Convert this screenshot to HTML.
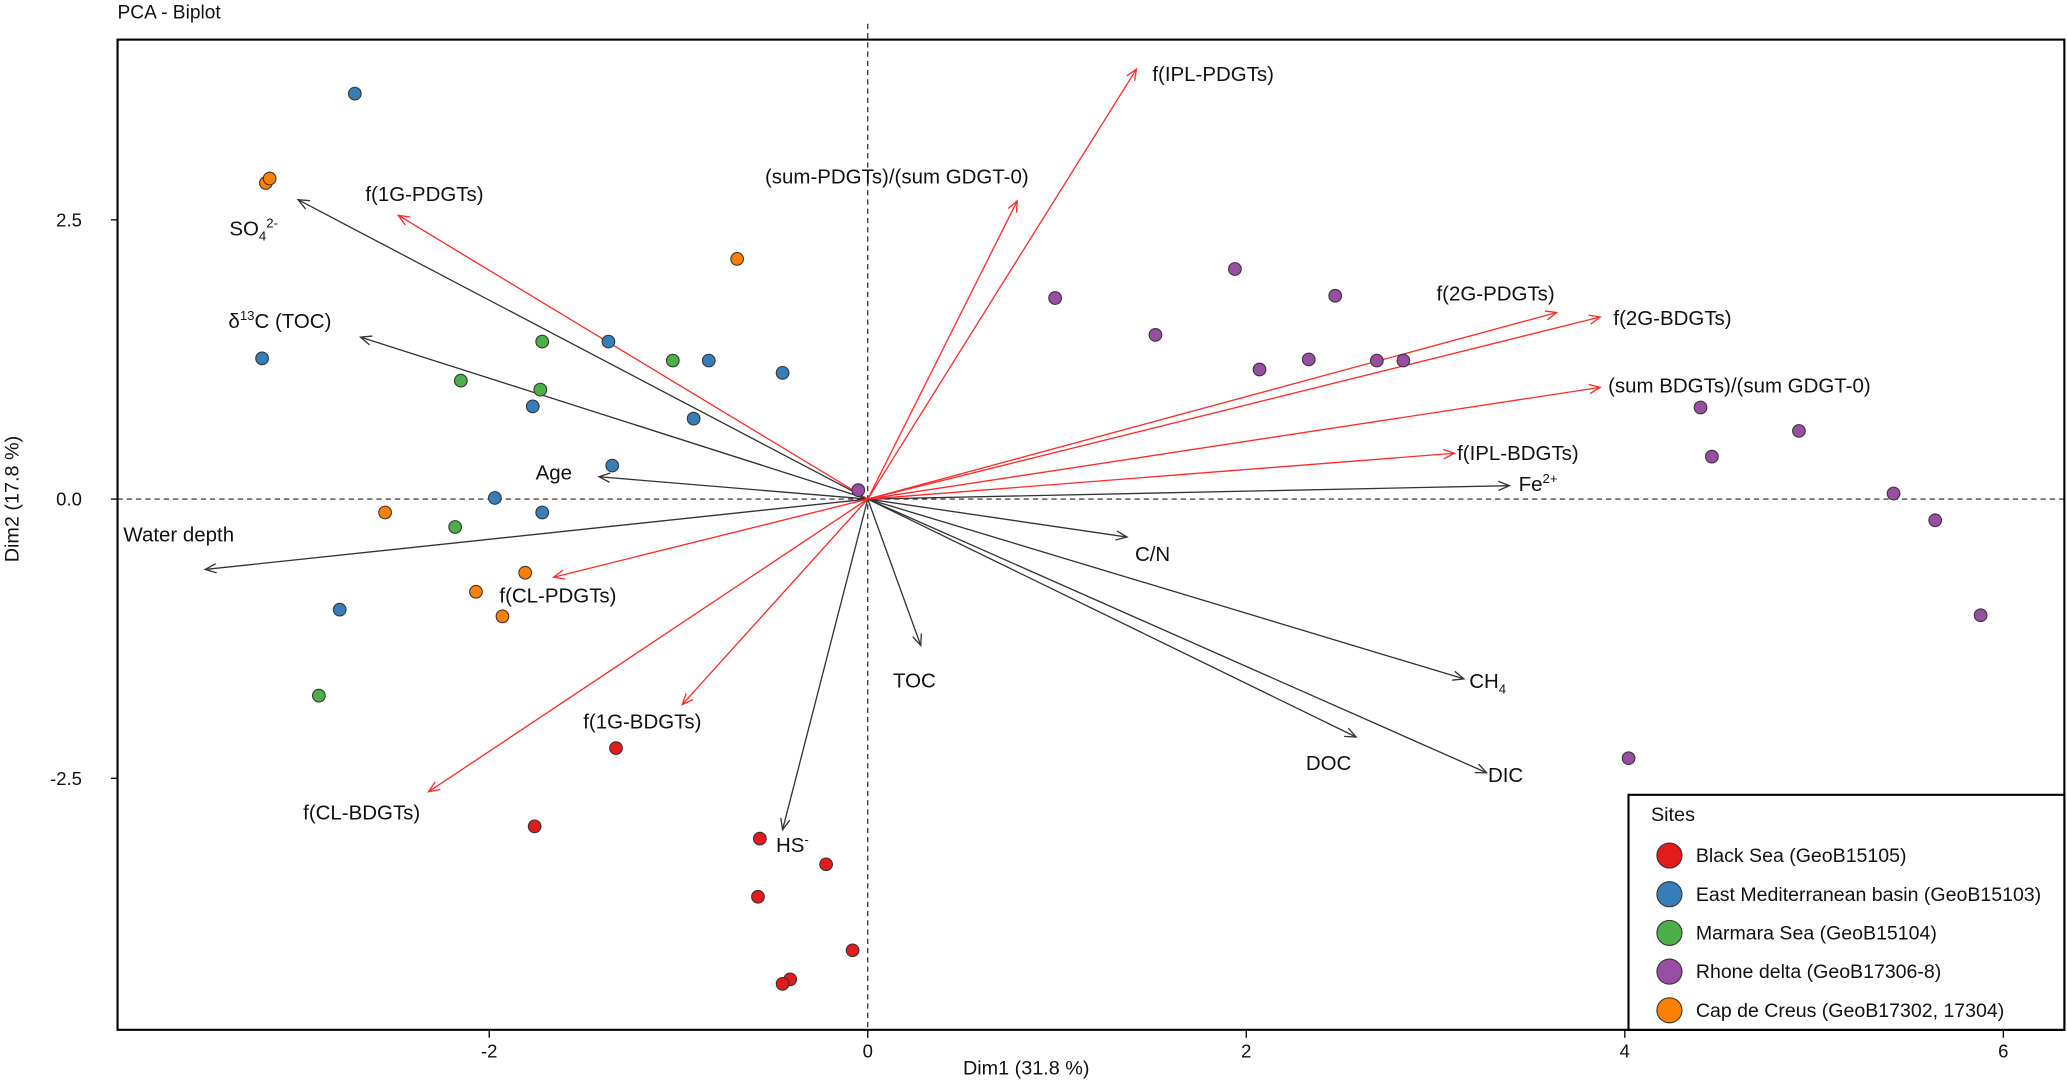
<!DOCTYPE html>
<html><head><meta charset="utf-8">
<style>html,body{margin:0;padding:0;background:#fff}svg{display:block}text{font-family:"Liberation Sans",Arial,sans-serif;fill:#111}</style>
</head><body>
<svg id="chart" width="2067" height="1080" viewBox="0 0 1565 818" preserveAspectRatio="none" xmlns="http://www.w3.org/2000/svg">
<text x="89" y="14" font-size="14.5">PCA - Biplot</text>
<g id="plot"></g>
<rect x="89" y="30" width="1474" height="750" fill="none" stroke="#000" stroke-width="1.6"/>
<text x="777" y="814" font-size="15" text-anchor="middle">Dim1 (31.8 %)</text>
<text transform="translate(14,378) rotate(-90)" font-size="15" text-anchor="middle">Dim2 (17.8 %)</text>
<g>
<rect x="1233" y="602" width="330" height="178" fill="#fff" stroke="#000" stroke-width="1.6"/>
<text x="1250" y="622" font-size="15">Sites</text>
<g id="legend-items"></g>
</g>
</svg>
<script>
const xTicks = [-2, 0, 2, 4, 6];
const yTicks = [-2.5, 0, 2.5];
const siteNames = ["Black Sea (GeoB15105)","East Mediterranean basin (GeoB15103)","Marmara Sea (GeoB15104)","Rhone delta (GeoB17306-8)","Cap de Creus (GeoB17302, 17304)"];
const siteColors = ["#e41a1c","#377eb8","#4daf4a","#984ea3","#ff7f00"];
const pointX = [-1.33,-1.76,-0.57,-0.22,-0.58,-0.08,-0.41,-0.45,
 -2.71,-3.20,-1.37,-0.84,-0.45,-1.77,-0.92,-1.35,-1.97,-1.72,-2.79,
 -1.72,-1.03,-2.15,-1.73,-2.18,-2.90,
 -0.05,0.99,1.94,1.52,2.47,2.07,2.33,2.69,2.83,4.40,4.46,4.92,5.42,5.64,5.88,4.02,
 -3.18,-3.16,-0.69,-2.55,-1.81,-2.07,-1.93];
const pointY = [-2.23,-2.93,-3.04,-3.27,-3.56,-4.04,-4.30,-4.34,
 3.63,1.26,1.41,1.24,1.13,0.83,0.72,0.30,0.01,-0.12,-0.99,
 1.41,1.24,1.06,0.98,-0.25,-1.76,
 0.08,1.80,2.06,1.47,1.82,1.16,1.25,1.24,1.24,0.82,0.38,0.61,0.05,-0.19,-1.04,-2.32,
 2.83,2.87,2.15,-0.12,-0.66,-0.83,-1.05];
const pointSite = [0,0,0,0,0,0,0,0, 1,1,1,1,1,1,1,1,1,1,1, 2,2,2,2,2,2, 3,3,3,3,3,3,3,3,3,3,3,3,3,3,3,3, 4,4,4,4,4,4,4];
const varNames = ["SO4","d13C","Age","Water depth","C/N","TOC","CH4","DOC","DIC","HS","Fe",
 "f(IPL-PDGTs)","(sum-PDGTs)/(sum GDGT-0)","f(1G-PDGTs)","f(2G-PDGTs)","f(2G-BDGTs)","(sum BDGTs)/(sum GDGT-0)","f(IPL-BDGTs)","f(CL-PDGTs)","f(1G-BDGTs)","f(CL-BDGTs)"];
const varX = [-3.01,-2.68,-1.42,-3.50,1.37,0.28,3.15,2.58,3.27,-0.45,3.39, 1.42,0.79,-2.48,3.64,3.87,3.87,3.10,-1.66,-0.98,-2.32];
const varY = [2.68,1.45,0.20,-0.63,-0.34,-1.31,-1.61,-2.13,-2.45,-2.96,0.12, 3.85,2.67,2.54,1.67,1.63,1.00,0.41,-0.70,-1.84,-2.62];
const varGroup = [0,0,0,0,0,0,0,0,0,0,0, 1,1,1,1,1,1,1,1,1,1];
const labelDX = [-52,-100,-48,-62,6,-21,4,-38,1,-5,7, 12,-191,-25,-91,10,6,2,-41,-75,-95];
const labelDY = [22,-12,-3,-26,13,27,2,20,2,12,-1, 4,-18,-16,-14,1,-1,0,14,13,16];

const NS="http://www.w3.org/2000/svg";
const X0=657, XS=143.3, Y0=378, YS=84.6;
const sx=v=>X0+v*XS, sy=v=>Y0-v*YS;
const plot=document.getElementById('plot');
function mk(tag,attrs,parent){const e=document.createElementNS(NS,tag);for(const k in attrs)e.setAttribute(k,attrs[k]);(parent||plot).appendChild(e);return e;}

let l=mk('line',{x1:89,x2:1563,y1:sy(0),y2:sy(0),stroke:'#222','stroke-dasharray':'4,3','stroke-width':0.9});


l=mk('line',{x1:sx(0),x2:sx(0),y1:18,y2:780,stroke:'#222','stroke-dasharray':'4,3','stroke-width':0.9});



xTicks.forEach(t=>{
 const tk=mk('line',{x1:sx(t),x2:sx(t),y1:780,y2:786,stroke:'#000'});
 
 
 const tx=mk('text',{x:sx(t),y:801,'font-size':14,'text-anchor':'middle'});
 tx.textContent=t;
 
 
});
yTicks.forEach(t=>{
 const tk=mk('line',{x1:84,x2:89,y1:sy(t),y2:sy(t),stroke:'#000'});
 
 
 const tx=mk('text',{x:62,y:sy(t)+5,'font-size':14,'text-anchor':'end'});
 tx.textContent=t.toFixed(1);
 
 
});

varNames.forEach((n,i)=>{
 const col=varGroup[i]?'#ff2a2a':'#333';
 const x2=sx(varX[i]), y2=sy(varY[i]);
 const g=mk('g',{});
 
 
 mk('line',{x1:X0,y1:Y0,x2:x2,y2:y2,stroke:col,'stroke-width':1},g);
 const a=Math.atan2(y2-Y0,x2-X0), L=9, w=0.4;
 mk('polyline',{points:`${x2-L*Math.cos(a-w)},${y2-L*Math.sin(a-w)} ${x2},${y2} ${x2-L*Math.cos(a+w)},${y2-L*Math.sin(a+w)}`,fill:'none',stroke:col,'stroke-width':1},g);
 const t=mk('text',{x:x2+labelDX[i],y:y2+labelDY[i]+5,'font-size':15.5},g);
 
 
 if(n==='SO4'){t.innerHTML='SO<tspan font-size="10" dy="4">4</tspan><tspan font-size="10" dy="-10">2-</tspan>';}
 else if(n==='d13C'){t.innerHTML='δ<tspan font-size="10" dy="-6">13</tspan><tspan dy="6">C (TOC)</tspan>';}
 else if(n==='CH4'){t.innerHTML='CH<tspan font-size="10" dy="4">4</tspan>';}
 else if(n==='HS'){t.innerHTML='HS<tspan font-size="10" dy="-6">-</tspan>';}
 else if(n==='Fe'){t.innerHTML='Fe<tspan font-size="10" dy="-6">2+</tspan>';}
 else t.textContent=n;
});

pointX.forEach((v,i)=>{
 const c=mk('circle',{cx:sx(v),cy:sy(pointY[i]),r:4.8,fill:siteColors[pointSite[i]],stroke:'#333','stroke-width':0.8});
 
 
});

const lg=document.getElementById('legend-items');
siteNames.forEach((n,i)=>{
 const yy=648+i*29.3;
 const c=mk('circle',{cx:1264,cy:yy,r:9.5,fill:siteColors[i],stroke:'#333','stroke-width':0.8},lg);
 
 
 const t=mk('text',{x:1284,y:yy+5,'font-size':14.8},lg);
 t.textContent=n;
 
 
});
</script>
</body></html>
